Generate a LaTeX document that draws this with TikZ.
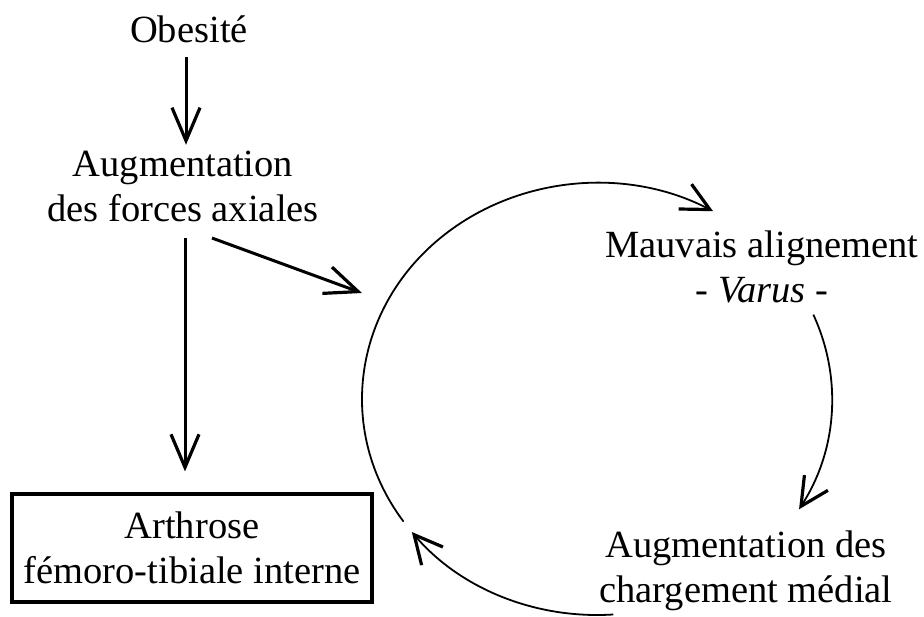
\documentclass[tikz,border=0pt]{standalone}
\usepackage{fontspec}
\setmainfont{Liberation Serif}
\usetikzlibrary{arrows.meta}
\tikzset{
  lbl/.style={inner sep=0pt, align=center, font=\fontsize{38.5}{45}\selectfont},
  sarr/.style={line width=3pt, -{Straight Barb[length=33pt,width=28pt,line width=3.2pt]}},
  carr/.style={line width=1.8pt, -{Straight Barb[length=28pt,width=28pt,line width=3.2pt]}},
  boxed/.style={lbl, draw, line width=3.2pt, minimum width=360pt, minimum height=108pt}
}
\begin{document}
\begin{tikzpicture}[x=1pt,y=-1pt]
\useasboundingbox (0,0) rectangle (924,616);
\node[lbl, anchor=base] (obe) at (189,42) {Obesité};
\node[lbl] (aug) at (183,186.4) {Augmentation\\des forces axiales};
\node[boxed] (art) at (192,548) {Arthrose\\fémoro-tibiale interne};
\node[lbl] (mal) at (762,267.4) {Mauvais alignement\\- \textit{Varus} -};
\node[lbl] (chg) at (746,571) {Augmentation des\\chargement médial};
\coordinate (cyc) at (597,399);
\coordinate (cin) at (362,293);
\draw[sarr] ([xshift=-3pt,yshift=-15pt]obe.base) -- ([xshift=3pt,yshift=6pt]aug.north);
\draw[sarr] ([xshift=2pt,yshift=-16pt]aug.south) -- ([xshift=-7pt,yshift=21pt]art.north);
\draw[sarr] ([xshift=29pt,yshift=-16pt]aug.south) -- (cin);
\draw[carr] (cyc) ++(145.4:235 and 216) arc[start angle=145.4, end angle=299.6, x radius=235, y radius=216];
\draw[carr] (cyc) ++(-23:235 and 216) arc[start angle=-23, end angle=30.7, x radius=235, y radius=216];
\draw[carr] (cyc) ++(86:235 and 216) arc[start angle=86, end angle=142, x radius=235, y radius=216];
\end{tikzpicture}
\end{document}
